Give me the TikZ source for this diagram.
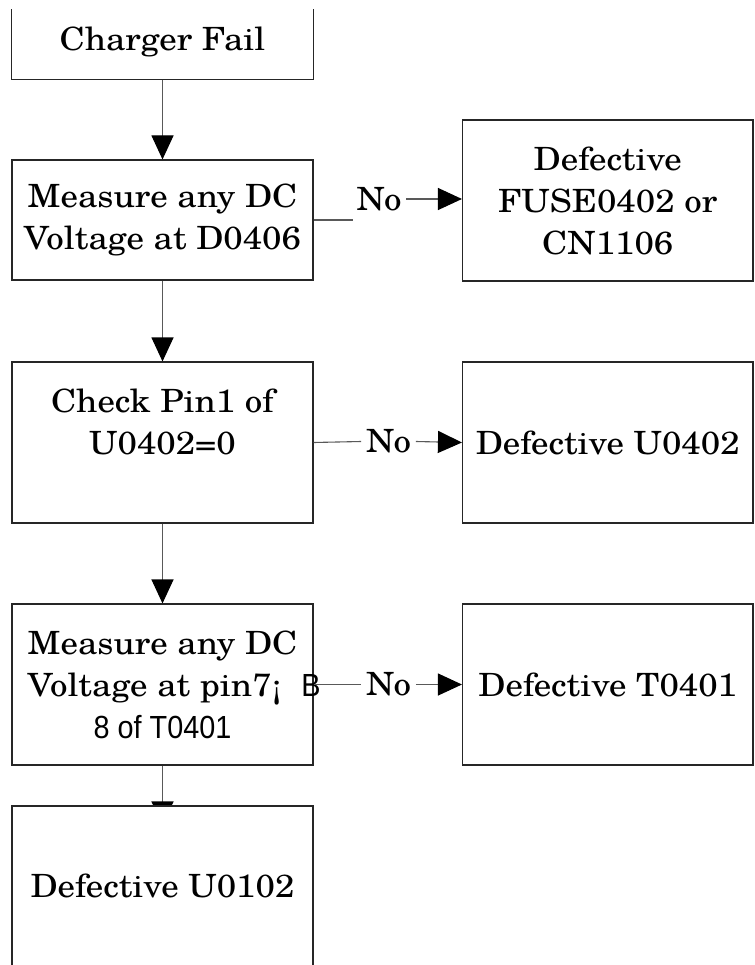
\documentclass[tikz,border=0pt]{standalone}
\usepackage{fontspec}
\usepackage{calc}
\setmainfont{TeX Gyre Schola}[FakeStretch=1.09]
\setsansfont{Liberation Sans}[FakeStretch=0.9]
\usetikzlibrary{arrows.meta,calc,backgrounds}

\begin{document}
\begin{tikzpicture}[x=1pt,y=-1pt,
  box/.style={draw=black!85, line width=1.1pt, minimum width=301pt,
    minimum height=161pt, inner sep=0pt, align=center,
    font=\fontsize{32}{42}\selectfont},
  rbox/.style={box, minimum width=290.5pt},
  boxline/.style={draw=black!85, line width=1.1pt},
  link/.style={draw=black!65, line width=1.1pt},
  flow/.style={link, -{Triangle[length=24pt,width=22pt,color=black]}},
  lbl/.style={inner sep=0pt, outer sep=5pt, font=\fontsize{32}{42}\selectfont}
]
\useasboundingbox (0,0) rectangle (754,965);

% left column of steps
\node[box, draw=none, minimum height=74pt] (b1) at (162.5,42) {Charger Fail};
\draw[boxline] ([yshift=-5pt]b1.north west) -- (b1.south west)
  -- (b1.south east) -- ([yshift=-5pt]b1.north east);

\node[box, minimum height=120pt] (b2) at (162.5,220)
  {Measure any DC\\Voltage at D0406};
\node[box] (b3) at (162.5,442.5) {Check Pin1 of\\U0402=0\\\mbox{}};
\node[box] (b4) at (162.5,684.5)
  {Measure any DC\\
   \makebox[\widthof{Measure any DC}][l]{Voltage at pin7¡}\rlap{\hspace{4pt}{\sffamily\fontsize{32}{42}\selectfont B}}\\
   {\sffamily\fontsize{32}{42}\selectfont 8 of T0401}};
\node[box, fill=white, minimum height=160pt] (b5) at (162.5,886) {Defective U0102};

% right column of results
\node[rbox] (rb1) at (607.75,200.5) {Defective\\FUSE0402 or\\CN1106};
\node[rbox] (rb2) at (607.75,442.5) {Defective U0402};
\node[rbox] (rb3) at (607.75,684.5) {Defective T0401};

% branch labels
\node[lbl] (no1) at (379,199) {No};
\node[lbl] (no2) at (388.5,441.5) {No};
\node[lbl] (no3) at (388.5,684.5) {No};

% main flow
\draw[flow] (b1.south) -- (b2.north);
\draw[flow] (b2.south) -- (b3.north);
\draw[flow] (b3.south) -- (b4.north);
\begin{pgfonlayer}{background}
  \draw[flow] (b4.south) -- ($(b5.north)+(0,20)$);
\end{pgfonlayer}

% "No" branches
\coordinate (k1) at (353,220);
\draw[link] (b2.east) -- (k1);
\draw[flow] (no1.east) -- (no1.east -| rb1.west);
\draw[link] (b3.east) -- (no2.west);
\draw[flow] (no2.east) -- (rb2.west);
\draw[link] (b4.east) -- (no3.west);
\draw[flow] (no3.east) -- (rb3.west);
\end{tikzpicture}
\end{document}
